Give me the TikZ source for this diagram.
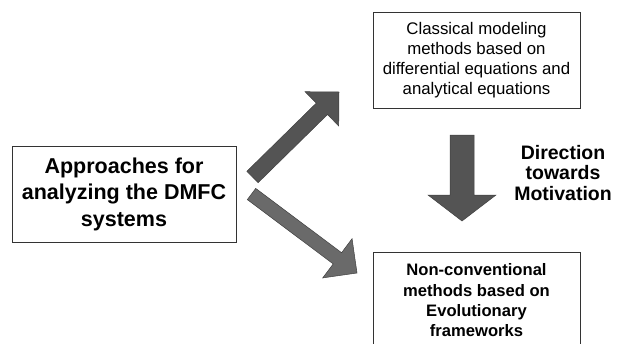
\documentclass[tikz,border=0pt]{standalone}
\usepackage{fontspec}
\setmainfont{Liberation Sans}
\usetikzlibrary{calc}

\definecolor{arrowdark}{HTML}{545454}
\definecolor{arrowlight}{HTML}{6A6A6A}

\tikzset{
  box/.style={draw=black!80, line width=0.8pt, fill=white, align=center, inner sep=0pt},
  blockarrow/.style={fill=#1, draw=black!75, line width=0.5pt, line join=miter},
}

% block arrow: tail, tip, half shaft, half head, head length, fill colour
\newcommand{\drawblockarrow}[6]{%
  \coordinate (head) at ($(#2)!#5!(#1)$);
  \filldraw[blockarrow=#6] ($(#1)!#3!90:(#2)$) -- ($(head)!#3!90:(#2)$)
    -- ($(head)!#4!90:(#2)$) -- (#2) -- ($(head)!#4!-90:(#2)$)
    -- ($(head)!#3!-90:(#2)$) -- ($(#1)!#3!-90:(#2)$) -- cycle;
}

\begin{document}
\begin{tikzpicture}[x=1pt, y=-1pt]
    \useasboundingbox (0,0) rectangle (618,343);
    \clip (0,0) rectangle (618,343);

    % Ends of the three block arrows
    \coordinate (upTail) at (252.5,177);
    \coordinate (upTip) at (339,92);
    \coordinate (downTail) at (251.5,194);
    \coordinate (downTip) at (357,273);
    \coordinate (motTail) at (462,135);
    \coordinate (motTip) at (462,221);

    % Block arrows
    \drawblockarrow{upTail}{upTip}{8pt}{24pt}{24pt}{arrowdark}
    \drawblockarrow{downTail}{downTip}{7pt}{24.5pt}{24.5pt}{arrowlight}
    \drawblockarrow{motTail}{motTip}{12pt}{34pt}{26pt}{arrowdark}

    % Starting box (left)
    \node[box, minimum width=224pt, minimum height=96pt,
          font=\fontsize{21.5}{26.5}\selectfont\bfseries] (approach) at (124,194)
          {Approaches for\\analyzing the DMFC\\systems};

    % Classical methods (top right)
    \node[box, minimum width=207pt, minimum height=96pt,
          font=\fontsize{16.8}{20}\selectfont] (classical) at (476.5,60)
          {Classical modeling\\methods based on\\differential equations and\\analytical equations};

    % Non-conventional methods (bottom right, cut by the page)
    \node[box, minimum width=207pt, minimum height=97pt,
          font=\fontsize{16.6}{20.3}\selectfont\bfseries] (evolutionary) at (476.5,300.5)
          {Non-conventional\\methods based on\\Evolutionary\\frameworks};

    % Label beside the vertical arrow
    \node[align=center, inner sep=0pt,
          font=\fontsize{19.5}{20.5}\selectfont\bfseries] (motivation) at (563,173)
          {Direction\\towards\\Motivation};
\end{tikzpicture}
\end{document}
